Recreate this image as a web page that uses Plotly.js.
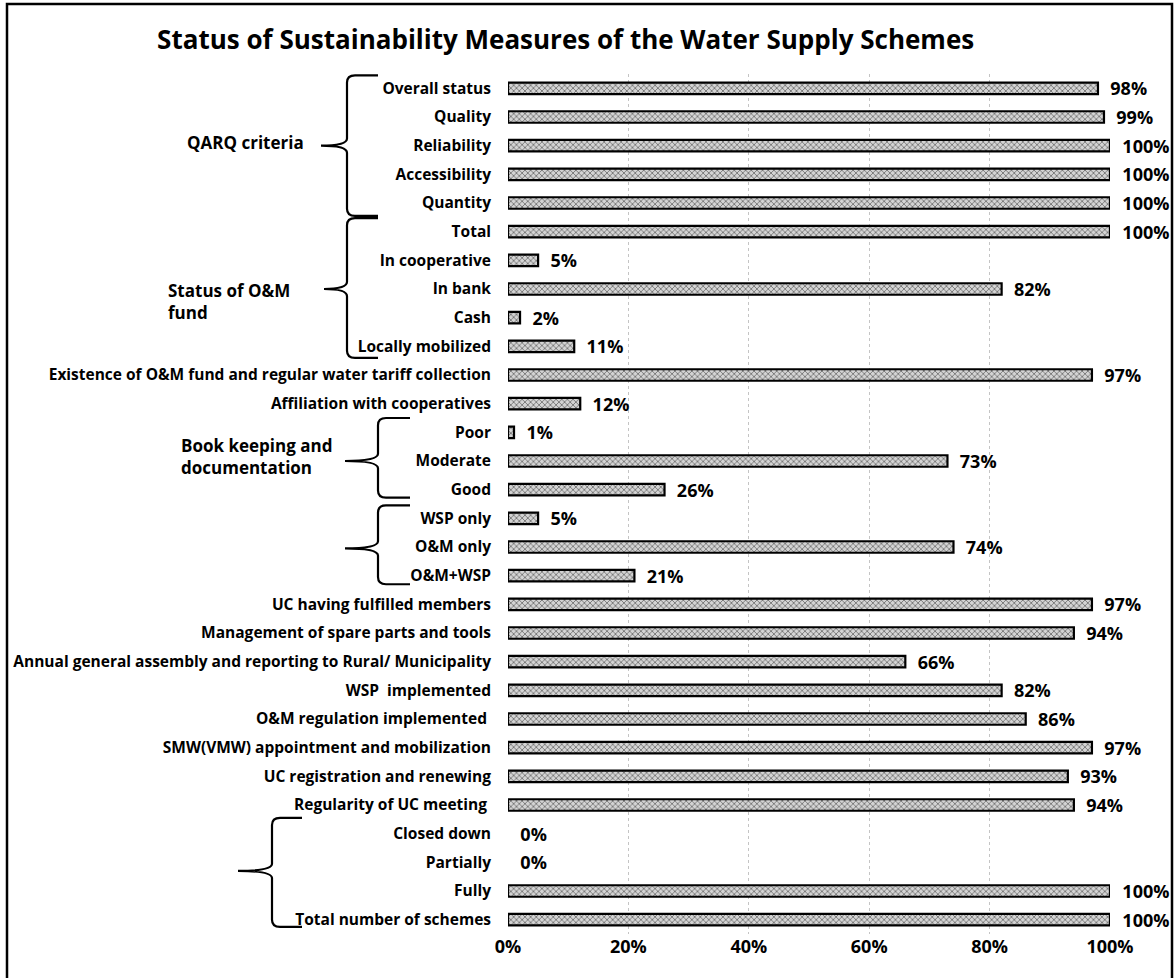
<!DOCTYPE html>
<html>
<head>
<meta charset="utf-8">
<script src="https://cdn.plot.ly/plotly-3.0.1.min.js"></script>
<style>
  html, body { margin: 0; padding: 0; background: #fff; }
  #chart { width: 1176px; height: 978px; }
</style>
</head>
<body>
<div id="chart"></div>
<script>
// Sustainability measures, listed top to bottom
const categories = [
  "Overall status", "Quality", "Reliability", "Accessibility", "Quantity",
  "Total", "In cooperative", "In bank", "Cash", "Locally mobilized",
  "Existence of O&M fund and regular water tariff collection",
  "Affiliation with cooperatives",
  "Poor", "Moderate", "Good",
  "WSP only", "O&M only", "O&M+WSP",
  "UC having fulfilled members",
  "Management of spare parts and tools",
  "Annual general assembly and reporting to Rural/ Municipality",
  "WSP  implemented",
  "O&M regulation implemented ",
  "SMW(VMW) appointment and mobilization",
  "UC registration and renewing",
  "Regularity of UC meeting ",
  "Closed down", "Partially", "Fully", "Total number of schemes"
];

// Share of schemes (%)
const percentages = [
  98, 99, 100, 100, 100,
  100, 5, 82, 2, 11,
  97,
  12,
  1, 73, 26,
  5, 74, 21,
  97,
  94,
  66,
  82,
  86,
  97,
  93,
  94,
  0, 0, 100, 100
];

const xTicks = [0, 20, 40, 60, 80, 100];

const FONT = "'Open Sans', Lato, sans-serif";

// plot area in pixels (used to place decorations in paper units)
const W = 1176, H = 978;
const M = { l: 508, r: 66, t: 74, b: 44 };
const plotW = W - M.l - M.r;
const plotH = H - M.t - M.b;
const px2paperX = px => (px - M.l) / plotW;
const px2paperY = py => (H - M.b - py) / plotH;

// Curly braces grouping rows: pixel x positions, row-index y positions
const braces = [
  { xv: 347, xe: 378, xt: 321, top: -0.45, bot: 4.45, mid: 2.0 },
  { xv: 347, xe: 378, xt: 324, top: 4.53, bot: 9.4, mid: 7.0 },
  { xv: 378, xe: 410, xt: 345, top: 11.5, bot: 14.28, mid: 13.0 },
  { xv: 378, xe: 410, xt: 345, top: 14.55, bot: 17.3, mid: 16.05 },
  { xv: 272, xe: 302, xt: 238, top: 25.45, bot: 29.25, mid: 27.3 }
];

function bracePath(b) {
  const xv = px2paperX(b.xv), xe = px2paperX(b.xe), xt = px2paperX(b.xt);
  const rx = 8 / plotW, ry = 0.25;
  return [
    `M ${xe},${b.top}`,
    `L ${xv + rx},${b.top}`,
    `Q ${xv},${b.top} ${xv},${b.top + ry}`,
    `L ${xv},${b.mid - ry}`,
    `Q ${xv},${b.mid} ${xt},${b.mid}`,
    `Q ${xv},${b.mid} ${xv},${b.mid + ry}`,
    `L ${xv},${b.bot - ry}`,
    `Q ${xv},${b.bot} ${xv + rx},${b.bot}`,
    `L ${xe},${b.bot}`
  ].join(" ");
}

const shapes = braces.map(b => ({
  type: "path", xref: "paper", yref: "y",
  path: bracePath(b),
  line: { color: "#000", width: 2.2 }
}));

// frame around the whole chart
shapes.push({
  type: "rect", xref: "paper", yref: "paper",
  x0: px2paperX(7), x1: px2paperX(1172),
  y0: px2paperY(990), y1: px2paperY(4),
  line: { color: "#000", width: 2.5 }, fillcolor: "rgba(0,0,0,0)"
});

const groupFont = { family: FONT, size: 17, color: "#000", weight: "bold" };
const annotations = [
  { text: "QARQ criteria", xref: "paper", yref: "y",
    x: px2paperX(306), y: 1.88, xanchor: "right", yanchor: "middle",
    showarrow: false, font: groupFont },
  { text: "Status of O&M<br>fund", xref: "paper", yref: "y",
    x: px2paperX(166), y: 7.45, xanchor: "left", yanchor: "middle", align: "left",
    showarrow: false, font: groupFont },
  { text: "Book keeping and<br>documentation", xref: "paper", yref: "y",
    x: px2paperX(179), y: 12.85, xanchor: "left", yanchor: "middle", align: "left",
    showarrow: false, font: groupFont }
];

const trace = {
  type: "bar",
  orientation: "h",
  y: categories,
  x: percentages,
  width: 0.4,
  marker: {
    color: "#cfcfcf",
    line: { color: "#000", width: percentages.map(v => (v > 0 ? 2.2 : 0)) },
    pattern: { shape: "x", fgcolor: "#666666", bgcolor: "#d4d4d4", size: 4, solidity: 0.35 }
  },
  texttemplate: "\u00a0\u00a0%{x:.0f}%",
  textposition: "outside",
  constraintext: "none",
  cliponaxis: false,
  textfont: { family: FONT, size: 18, color: "#000", weight: "bold" },
  hoverinfo: "y+x"
};

const layout = {
  width: W, height: H,
  margin: M,
  paper_bgcolor: "#fff",
  plot_bgcolor: "#fff",
  showlegend: false,
  title: {
    text: "Status of Sustainability Measures of the Water Supply Schemes",
    x: 0.481, xanchor: "center",
    y: 1 - 40 / H, yanchor: "middle", yref: "container",
    font: { family: FONT, size: 26, color: "#000", weight: "bold" }
  },
  xaxis: {
    range: [0, 100],
    tickvals: xTicks,
    ticktext: xTicks.map(v => v + "%"),
    showgrid: true,
    gridcolor: "#c4c4c4",
    griddash: "dot",
    gridwidth: 1,
    zeroline: false,
    showline: false,
    ticks: "",
    tickfont: { family: FONT, size: 18, color: "#000", weight: "bold" },
    fixedrange: true
  },
  yaxis: {
    type: "category",
    autorange: "reversed",
    showgrid: false,
    zeroline: false,
    showline: false,
    ticks: "",
    ticklabelstandoff: 16,
    tickfont: { family: FONT, size: 15.5, color: "#000", weight: "bold" },
    fixedrange: true
  },
  shapes: shapes,
  annotations: annotations
};

Plotly.newPlot("chart", [trace], layout, { displayModeBar: false, staticPlot: true });
</script>
</body>
</html>
